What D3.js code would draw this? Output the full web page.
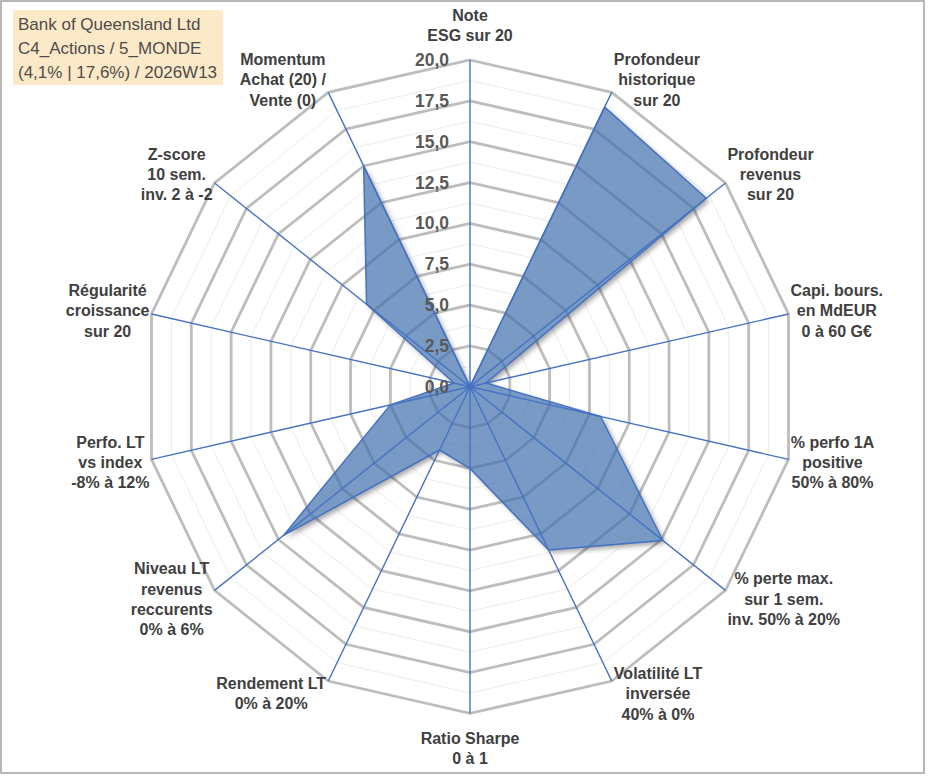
<!DOCTYPE html>
<html lang="fr">
<head>
<meta charset="UTF-8">
<title>Radar</title>
<script src="https://d3js.org/d3.v7.min.js"></script>
<style>
    body { margin: 0; background: #fff; }
    .cat {
        font-family: "Liberation Sans", Arial, sans-serif;
        font-weight: bold;
        font-size: 16px;
        fill: #404040;
        text-anchor: middle;
    }
    .tick {
        font-family: "Liberation Sans", Arial, sans-serif;
        font-weight: bold;
        font-size: 17.5px;
        fill: #595959;
        text-anchor: end;
    }
    .title {
        font-family: "Liberation Sans", Arial, sans-serif;
        font-size: 17px;
        fill: #4d4d4d;
    }
</style>
</head>
<body>
<script>
    const width = 933;
    const height = 776;

    const categories = [
        "Note\nESG sur 20",
        "Profondeur\nhistorique\nsur 20",
        "Profondeur\nrevenus\nsur 20",
        "Capi. bours.\nen MdEUR\n0 à 60 G€",
        "% perfo 1A\npositive\n50% à 80%",
        "% perte max.\nsur 1 sem.\ninv. 50% à 20%",
        "Volatilité LT\ninversée\n40% à 0%",
        "Ratio Sharpe\n0 à 1",
        "Rendement LT\n0% à 20%",
        "Niveau LT\nrevenus\nreccurents\n0% à 6%",
        "Perfo. LT\nvs index\n-8% à 12%",
        "Régularité\ncroissance\nsur 20",
        "Z-score\n10 sem.\ninv. 2 à -2",
        "Momentum\nAchat (20) /\nVente (0)"
    ];
    const values = [0, 19.0, 18.5, 1.0, 8.2, 15.1, 11.1, 5.0, 4.3, 14.6, 5.0, 1.0, 8.1, 15.0];
    const majorTicks = [0, 2.5, 5, 7.5, 10, 12.5, 15, 17.5, 20];
    const minorTicks = [1.25, 3.75, 6.25, 8.75, 11.25, 13.75, 16.25, 18.75];
    const titleLines = ["Bank of Queensland Ltd", "C4_Actions / 5_MONDE", "(4,1% | 17,6%) / 2026W13"];

    const cx = 470, cy = 386.7, R = 326.7;
    const r = d3.scaleLinear().domain([0, 20]).range([0, R]);
    const angle = d3.scaleLinear().domain([0, categories.length]).range([0, 2 * Math.PI]);
    const fr = d3.formatLocale({decimal: ",", thousands: " ", grouping: [3], currency: ["", "€"]});
    const fmt = fr.format(".1f");

    const svg = d3.select("body").append("svg").attr("width", width).attr("height", height);

    const defs = svg.append("defs");
    const f = defs.append("filter").attr("id", "shadow")
        .attr("x", "-20%").attr("y", "-20%").attr("width", "140%").attr("height", "140%");
    f.append("feGaussianBlur").attr("in", "SourceAlpha").attr("stdDeviation", 2.5).attr("result", "blur");
    f.append("feOffset").attr("in", "blur").attr("dx", 3).attr("dy", 3).attr("result", "off");
    f.append("feComposite").attr("in", "off").attr("in2", "SourceAlpha").attr("operator", "out").attr("result", "outside");
    f.append("feFlood").attr("flood-color", "#000").attr("flood-opacity", 0.35).attr("result", "col");
    f.append("feComposite").attr("in", "col").attr("in2", "outside").attr("operator", "in");

    // frame
    svg.append("rect").attr("x", 1).attr("y", 1).attr("width", 923).attr("height", 772)
        .attr("fill", "#fff").attr("stroke", "#a0a0a0").attr("stroke-width", 1.5);

    const chart = svg.append("g").attr("transform", `translate(${cx},${cy})`);
    const idx = d3.range(categories.length);

    const ring = lvl => d3.lineRadial()
        .angle(i => angle(i))
        .radius(() => r(lvl))
        .curve(d3.curveLinearClosed)(idx);

    chart.append("g").selectAll("path")
        .data(minorTicks)
        .join("path")
        .attr("d", ring)
        .attr("fill", "none")
        .attr("stroke", "#ececec")
        .attr("stroke-width", 1);

    chart.append("g").selectAll("path")
        .data(majorTicks.filter(d => d > 0))
        .join("path")
        .attr("d", ring)
        .attr("fill", "none")
        .attr("stroke", "#bdbdbd")
        .attr("stroke-width", 2.8);

    // series
    const area = d3.lineRadial()
        .angle((d, i) => angle(i))
        .radius(d => r(d))
        .curve(d3.curveLinearClosed);

    chart.append("path")
        .attr("d", area(values))
        .attr("fill", "#000")
        .attr("filter", "url(#shadow)");

    chart.append("path")
        .attr("d", area(values))
        .attr("fill", "#3f6fad")
        .attr("fill-opacity", 0.7)
        .attr("stroke", "#4472c4")
        .attr("stroke-width", 1.5)
        .attr("stroke-linejoin", "round");

    // spokes
    chart.append("g").selectAll("line")
        .data(idx)
        .join("line")
        .attr("x1", 0).attr("y1", 0)
        .attr("x2", i => r(20) * Math.sin(angle(i)))
        .attr("y2", i => -r(20) * Math.cos(angle(i)))
        .attr("stroke", "#4472c4")
        .attr("stroke-width", 1.4);

    // tick labels
    chart.append("g").selectAll("text")
        .data(majorTicks)
        .join("text")
        .attr("class", "tick")
        .attr("x", -21)
        .attr("y", d => -r(d))
        .attr("dy", "0.35em")
        .text(d => fmt(d));

    // category labels
    const lh = 20.3;
    const labels = chart.append("g").selectAll("text")
        .data(categories)
        .join("text")
        .attr("class", "cat");

    labels.each(function(d, i) {
        const t = d3.select(this);
        const lines = d.split("\n");
        lines.forEach((s, k) => t.append("tspan").attr("x", 0).attr("y", k * lh).attr("dy", "0.35em").text(s));
        const w = this.getBBox().width;
        const a = angle(i);
        const px = r(20) * Math.sin(a), py = -r(20) * Math.cos(a);
        const h = (lines.length - 1) * lh;
        let bx, by;
        if (Math.abs(Math.sin(a)) < 0.2) {
            bx = px;
            by = Math.cos(a) > 0 ? py - 14.5 - lh / 2 - h : py + 14.5 + lh / 2;
        } else {
            bx = px + Math.sign(Math.sin(a)) * (2 + w / 2);
            by = py - Math.cos(a) * 14 - h / 2;
        }
        t.attr("transform", `translate(${bx},${by})`);
    });

    // title box
    svg.append("rect").attr("x", 13).attr("y", 10).attr("width", 210).attr("height", 75)
        .attr("fill", "#fce9c8");
    svg.append("g").selectAll("text")
        .data(titleLines)
        .join("text")
        .attr("class", "title")
        .attr("x", 18)
        .attr("y", (d, i) => 30 + i * 24)
        .text(d => d);
</script>
</body>
</html>
